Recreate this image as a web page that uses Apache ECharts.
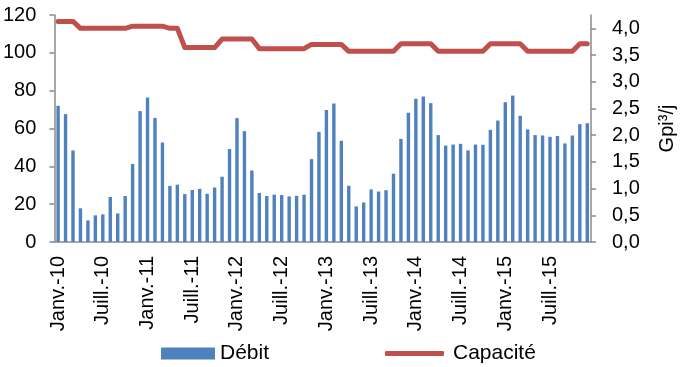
<!DOCTYPE html>
<html><head><meta charset="utf-8">
<script src="https://cdn.jsdelivr.net/npm/echarts@6/dist/echarts.min.js"></script>
<style>html,body{margin:0;padding:0;background:#fff}#c{width:685px;height:367px}</style>
</head><body><div id="c"></div>
<script>
const monthNames = ['Janv.','Févr.','Mars','Avr.','Mai','Juin','Juill.','Août','Sept.','Oct.','Nov.','Déc.'];
const years = ['10','11','12','13','14','15'];

const debit2010 = [72.0, 67.6, 48.4, 17.8, 11.4, 14.1, 14.6, 23.8, 15.1, 24.3, 41.2, 69.2];
const debit2011 = [76.4, 65.6, 52.6, 29.7, 30.3, 25.3, 27.5, 28.1, 25.5, 28.8, 34.5, 49.1];
const debit2012 = [65.5, 58.6, 37.8, 25.9, 24.3, 25.0, 24.8, 24.1, 24.4, 25.0, 43.8, 58.2];
const debit2013 = [69.8, 73.2, 53.5, 29.7, 18.8, 20.9, 27.8, 26.7, 27.4, 36.1, 54.5, 68.3];
const debit2014 = [75.7, 76.9, 73.4, 56.5, 51.0, 51.5, 51.9, 48.4, 51.5, 51.4, 59.3, 64.2];
const debit2015 = [73.9, 77.4, 66.7, 59.5, 56.5, 56.3, 55.6, 56.0, 52.1, 56.3, 62.3, 62.8];

const capacite2010 = [4.13, 4.13, 4.13, 4.00, 4.00, 4.00, 4.00, 4.00, 4.00, 4.00, 4.04, 4.04];
const capacite2011 = [4.04, 4.04, 4.04, 4.00, 4.00, 3.64, 3.64, 3.64, 3.64, 3.64, 3.80, 3.80];
const capacite2012 = [3.80, 3.80, 3.80, 3.62, 3.62, 3.62, 3.62, 3.62, 3.62, 3.62, 3.70, 3.70];
const capacite2013 = [3.70, 3.70, 3.70, 3.57, 3.57, 3.57, 3.57, 3.57, 3.57, 3.57, 3.71, 3.71];
const capacite2014 = [3.71, 3.71, 3.71, 3.57, 3.57, 3.57, 3.57, 3.57, 3.57, 3.57, 3.71, 3.71];
const capacite2015 = [3.71, 3.71, 3.71, 3.57, 3.57, 3.57, 3.57, 3.57, 3.57, 3.57, 3.71, 3.71];

const leftTicks = [0, 20, 40, 60, 80, 100, 120];
const rightTicks = [0, 0.5, 1, 1.5, 2, 2.5, 3, 3.5, 4];

const categories = [];
years.forEach(y => monthNames.forEach(m => categories.push(m + '-' + y)));
const debit = [].concat(debit2010, debit2011, debit2012, debit2013, debit2014, debit2015);
const capacite = [].concat(capacite2010, capacite2011, capacite2012, capacite2013, capacite2014, capacite2015);

const FONT = "'Liberation Sans', Arial, sans-serif";
const AXIS = '#8a8a8a';
const chart = echarts.init(document.getElementById('c'), null, {renderer: 'canvas'});
chart.setOption({
  animation: false,
  backgroundColor: '#fff',
  textStyle: {fontFamily: FONT},
  grid: {left: 54, right: 86, top: 15, bottom: 125, containLabel: false},
  legend: [
    {data: ['Débit'], left: 161, top: 343, padding: 0, itemWidth: 54, itemHeight: 12, icon: 'rect',
     textStyle: {fontSize: 21, color: '#000', fontFamily: FONT}},
    {data: [{name: 'Capacité', icon: 'roundRect'}], left: 385, top: 343, padding: 0, itemWidth: 59, itemHeight: 5,
     itemStyle: {color: '#C0504D'},
     textStyle: {fontSize: 21, color: '#000', fontFamily: FONT, padding: [0, 0, 0, 4]}}
  ],
  xAxis: {
    type: 'category', data: categories, boundaryGap: true,
    axisLine: {lineStyle: {color: AXIS, width: 1.5}},
    axisTick: {interval: 5, length: 5, lineStyle: {color: AXIS, width: 1.5}},
    axisLabel: {interval: 5, rotate: 90, margin: 14, fontSize: 20, color: '#000', fontFamily: FONT}
  },
  yAxis: [
    {type: 'value', min: 0, max: 120, interval: 20,
     splitLine: {show: false},
     axisLine: {show: true, lineStyle: {color: AXIS, width: 1.5}},
     axisTick: {show: true, length: 5, customValues: leftTicks, lineStyle: {color: AXIS, width: 1.5}},
     axisLabel: {margin: 18, fontSize: 20, color: '#000', fontFamily: FONT, customValues: leftTicks}},
    {type: 'value', min: 0, max: 4.25, interval: 0.5, position: 'right',
     splitLine: {show: false},
     name: 'Gpi³/j', nameLocation: 'middle', nameGap: 66, nameRotate: 90,
     nameTextStyle: {fontSize: 20, color: '#000', fontFamily: FONT},
     axisLine: {show: true, lineStyle: {color: AXIS, width: 1.5}},
     axisTick: {show: true, length: 5, customValues: rightTicks, lineStyle: {color: AXIS, width: 1.5}},
     axisLabel: {margin: 21, fontSize: 20, color: '#000', fontFamily: FONT, customValues: rightTicks,
       formatter: v => v.toFixed(1).replace('.', ',')}}
  ],
  series: [
    {name: 'Débit', type: 'bar', data: debit, barWidth: 3.4, itemStyle: {color: '#4F81BD'}, yAxisIndex: 0},
    {name: 'Capacité', type: 'line', data: capacite, yAxisIndex: 1, symbol: 'none', showSymbol: false,
     lineStyle: {color: '#C0504D', width: 5, join: 'round', cap: 'round'}, itemStyle: {color: '#C0504D'}}
  ]
});
</script></body></html>
